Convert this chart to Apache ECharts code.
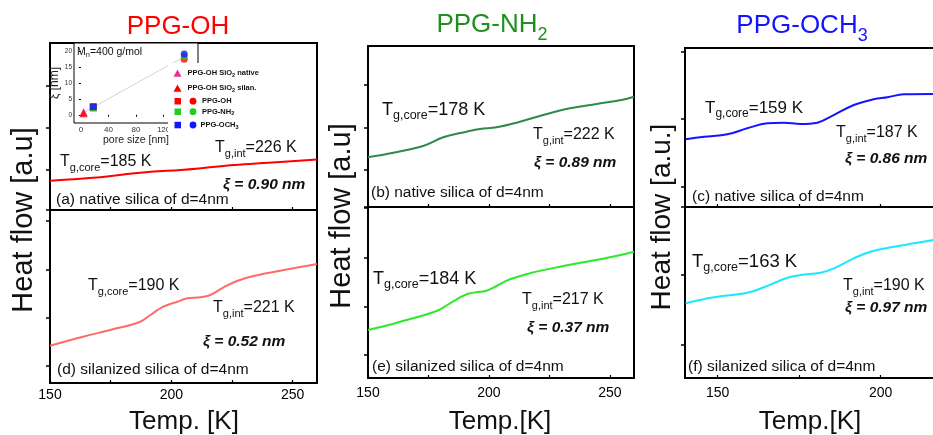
<!DOCTYPE html>
<html>
<head>
<meta charset="utf-8">
<script src="https://cdn.jsdelivr.net/npm/echarts@6/dist/echarts.min.js"></script>
<style>
html,body{margin:0;padding:0;background:#fff;}
#chart{width:933px;height:435px;}
</style>
</head>
<body>
<div id="chart"></div>
<script>
// ---------------- DATA ----------------
// Temperatures [K] and heat flow [a.u.]
const tempP1Top = [150, 170.7, 181.7, 191.5, 203.9, 212.2, 225.9, 239.9, 260];
const flowP1Top = [29.3, 32.7, 36, 38.3, 40, 41.7, 45, 47.3, 50.5];

const tempP1Bot = [150, 163.6, 174.8, 187.2, 191.3, 196.7, 202.5, 206.6, 212, 216, 221.5, 227.3, 233.9, 246.3, 260];
const flowP1Bot = [37.3, 46.3, 53, 61.3, 68, 76.3, 81.3, 84.7, 85.7, 88, 95.7, 102.3, 107, 113, 119];

const tempP2Top = [150, 160.5, 172.8, 181.1, 190.8, 196.3, 203.2, 211.4, 222.4, 233.5, 244.5, 254.8, 260];
const flowP2Top = [49.7, 54.3, 61, 69.7, 75.3, 78, 79.7, 84.3, 92, 98.7, 103, 107, 110.3];

const tempP2Bot = [150, 161.9, 178.4, 183.9, 190.8, 196.3, 199, 203.2, 208.7, 216.9, 229.3, 240.4, 250, 260];
const flowP2Bot = [48, 55.3, 67, 74.7, 83.7, 86.3, 87.3, 92, 98.7, 104.7, 111.3, 116.3, 120.7, 126.3];

const tempP3Top = [140.2, 145.8, 153, 159.1, 165.2, 170.3, 175.5, 180.6, 184.7, 191.8, 197.9, 202.1, 207.1, 216.3];
const flowP3Top = [67.7, 70.3, 72.7, 78.7, 83.7, 84.3, 83, 84.3, 90.3, 102, 107.7, 109.7, 112.7, 113];

const tempP3Bot = [140.2, 148.9, 159.1, 164.2, 171.4, 175.5, 181.6, 185.7, 191.8, 196.9, 204.1, 210.2, 216.3];
const flowP3Bot = [74.7, 80.7, 85.3, 90.7, 100.3, 103, 105.3, 109.7, 119.7, 126.3, 131.3, 134.7, 138];

// Tick marks / labels
const xTicksMain = [150, 175, 200, 225, 250];
const xLabelsMain = [150, 200, 250];
const xTicksP3 = [150, 175, 200];
const xLabelsP3 = [150, 200];
const yTicksP1Top = [0, 40, 82, 124];
const yTicksP1Bot = [17, 65, 113, 162];
const yTicksP2Top = [0, 37, 79, 122];
const yTicksP2Bot = [23, 71, 120, 170];
const yTicksP3Top = [0, 20, 88, 155];
const yTicksP3Bot = [33, 103];

// Inset: correlation length xi [nm] vs pore size [nm]
const poreTicks = [0, 40, 80, 120, 160];
const poreLabels = [0, 40, 80, 120];
const xiTicks = [0, 5, 10, 15, 20];
const poreSmall = 4;
const poreMid = 18;
const poreLarge = 150;
const xiNative = [0.90];
const xiSilan = [0.52];
const xiOH = [2.3, 17.6];
const xiNH2 = [2.1, 18.4];
const xiOCH3 = [2.6, 19.2];
const guidePore = [4, 150];
const guideXi = [0.7, 18.4];

// ---------------- CHART ----------------
const FONT = "'Liberation Sans', Arial, Helvetica, sans-serif";
const zip = (a, b) => a.map((v, i) => [v, b[i]]);

const gridBase = {show: true, borderColor: '#000', borderWidth: 2, backgroundColor: 'transparent', containLabel: false, outerBoundsMode: 'none'};
const grids = [
  Object.assign({left: 50, top: 43, width: 267, height: 167}, gridBase),
  Object.assign({left: 50, top: 210, width: 267, height: 173}, gridBase),
  Object.assign({left: 368, top: 46, width: 266, height: 161}, gridBase),
  Object.assign({left: 368, top: 207, width: 266, height: 171}, gridBase),
  Object.assign({left: 685, top: 48, width: 252, height: 159}, gridBase),
  Object.assign({left: 685, top: 207, width: 252, height: 171}, gridBase),
  {left: 74, top: 43, width: 124, height: 80, show: true, borderColor: '#000', borderWidth: 1, backgroundColor: '#fff', containLabel: false, outerBoundsMode: 'none'}
];

function mainX(gi, min, max, ticks, labels) {
  return {
    gridIndex: gi, type: 'value', min: min, max: max,
    axisLine: {show: false}, splitLine: {show: false},
    axisTick: {show: true, inside: true, length: 3, lineStyle: {color: '#000', width: 1.2}, customValues: ticks},
    axisLabel: labels ? {show: true, customValues: labels, fontSize: 14, color: '#000', margin: gi === 1 ? 5 : 8, fontFamily: FONT} : {show: false}
  };
}
function mainY(gi, h, ticks) {
  return {
    gridIndex: gi, type: 'value', min: 0, max: h,
    axisLine: {show: false}, splitLine: {show: false}, axisLabel: {show: false},
    axisTick: {show: true, inside: false, length: 4, lineStyle: {color: '#000', width: 1.5}, customValues: ticks}
  };
}

const xAxes = [
  mainX(0, 150, 260, xTicksMain, null),
  mainX(1, 150, 260, xTicksMain, xLabelsMain),
  mainX(2, 150, 260, xTicksMain, null),
  mainX(3, 150, 260, xTicksMain, xLabelsMain),
  mainX(4, 140, 217.3, xTicksP3, null),
  mainX(5, 140, 217.3, xTicksP3, xLabelsP3),
  {
    gridIndex: 6, type: 'value', min: -10, max: 170,
    axisLine: {show: false}, splitLine: {show: false},
    axisTick: {show: true, inside: false, length: 2, lineStyle: {color: '#000', width: 1}, customValues: poreTicks},
    axisLabel: {show: true, customValues: poreLabels, fontSize: 8, color: '#333', margin: 3, fontFamily: FONT},
    name: 'pore size [nm]', nameLocation: 'middle', nameGap: 12,
    nameTextStyle: {fontSize: 10.5, color: '#222', fontFamily: FONT}
  }
];
const yAxes = [
  mainY(0, 167, yTicksP1Top),
  mainY(1, 173, yTicksP1Bot),
  mainY(2, 161, yTicksP2Top),
  mainY(3, 171, yTicksP2Bot),
  mainY(4, 159, yTicksP3Top),
  mainY(5, 171, yTicksP3Bot),
  {
    gridIndex: 6, type: 'value', min: -2.6, max: 22.7,
    axisLine: {show: false}, splitLine: {show: false},
    axisTick: {show: true, inside: false, length: 2, lineStyle: {color: '#000', width: 1}, customValues: xiTicks},
    axisLabel: {show: true, customValues: xiTicks, fontSize: 6.5, color: '#333', margin: 2, fontFamily: FONT},
    name: 'ξ [nm]', nameLocation: 'middle', nameGap: 12, nameRotate: 90,
    nameTextStyle: {fontSize: 12, color: '#222', fontFamily: FONT}
  }
];

function curve(idx, t, f, color) {
  return {
    type: 'line', xAxisIndex: idx, yAxisIndex: idx, data: zip(t, f),
    smooth: 0.4, showSymbol: false, symbol: 'none',
    lineStyle: {color: color, width: 2}, z: 3, silent: true
  };
}

const series = [
  curve(0, tempP1Top, flowP1Top, '#ff0000'),
  curve(1, tempP1Bot, flowP1Bot, '#ff6b6b'),
  curve(2, tempP2Top, flowP2Top, '#2e8b47'),
  curve(3, tempP2Bot, flowP2Bot, '#2ee82e'),
  curve(4, tempP3Top, flowP3Top, '#1414ff'),
  curve(5, tempP3Bot, flowP3Bot, '#1ae8ff'),
  {type: 'line', xAxisIndex: 6, yAxisIndex: 6, data: zip(guidePore, guideXi), showSymbol: false, symbol: 'none', lineStyle: {color: '#c8c8c8', width: 0.8}, z: 3},
  {type: 'scatter', xAxisIndex: 6, yAxisIndex: 6, data: xiNative.map(v => [poreSmall, v]), symbol: 'triangle', symbolSize: 8, itemStyle: {color: '#e8309a'}, z: 4},
  {type: 'scatter', xAxisIndex: 6, yAxisIndex: 6, data: xiSilan.map(v => [poreSmall, v]), symbol: 'triangle', symbolSize: 8, itemStyle: {color: '#ff0000'}, z: 4},
  {type: 'scatter', xAxisIndex: 6, yAxisIndex: 6, data: zip([poreMid, poreLarge], xiOH), symbol: (v, p) => p.dataIndex === 0 ? 'rect' : 'circle', symbolSize: 7, itemStyle: {color: '#ff0000'}, z: 4},
  {type: 'scatter', xAxisIndex: 6, yAxisIndex: 6, data: zip([poreMid, poreLarge], xiNH2), symbol: (v, p) => p.dataIndex === 0 ? 'rect' : 'circle', symbolSize: 7, itemStyle: {color: '#22cc22'}, z: 4},
  {type: 'scatter', xAxisIndex: 6, yAxisIndex: 6, data: zip([poreMid, poreLarge], xiOCH3), symbol: (v, p) => p.dataIndex === 0 ? 'rect' : 'circle', symbolSize: 7, itemStyle: {color: '#1414ff'}, z: 4}
];

// ---------------- TEXT / DECORATIONS ----------------
function txt(x, y, text, size, opts) {
  opts = opts || {};
  return {
    type: 'text', x: x, y: y, z: opts.z || 60, rotation: opts.rotation || 0,
    style: {
      text: text, fontSize: size, fontFamily: FONT, fill: opts.color || '#111',
      fontWeight: opts.weight || 'normal', fontStyle: opts.style || 'normal',
      align: opts.align || 'left', verticalAlign: 'middle'
    }
  };
}
function subTxt(x, y, pre, sub, post, size, subSize, pad, opts) {
  opts = opts || {};
  const color = opts.color || '#111';
  const w = opts.weight || 'normal';
  return {
    type: 'text', x: x, y: y, z: opts.z || 60,
    style: {
      text: '{m|' + pre + '}{s|' + sub + '}' + (post ? '{m|' + post + '}' : ''),
      align: opts.align || 'left', verticalAlign: 'middle',
      rich: {
        m: {fontSize: size, fontFamily: FONT, fill: color, fontWeight: w},
        s: {fontSize: subSize, fontFamily: FONT, fill: color, fontWeight: w, padding: [pad, 0, 0, 0]}
      }
    }
  };
}
const xiStyle = {weight: 'bold', style: 'italic'};

const elements = [
  // titles
  txt(178, 27, 'PPG-OH', 26, {color: '#ff0000', align: 'center'}),
  subTxt(492, 25, 'PPG-NH', '2', '', 26, 18, 20, {color: '#1f8f1f', align: 'center'}),
  subTxt(802, 26, 'PPG-OCH', '3', '', 26, 18, 20, {color: '#1414ff', align: 'center'}),
  // y titles
  txt(24, 220, 'Heat flow [a.u]', 29, {align: 'center', rotation: Math.PI / 2}),
  txt(342, 216, 'Heat flow [a.u]', 29, {align: 'center', rotation: Math.PI / 2}),
  txt(662, 217, 'Heat flow [a.u.]', 28, {align: 'center', rotation: Math.PI / 2}),
  // x titles
  txt(184, 422, 'Temp. [K]', 26, {align: 'center'}),
  txt(500, 422, 'Temp.[K]', 26, {align: 'center'}),
  txt(810, 422, 'Temp.[K]', 26, {align: 'center'}),
  // panel captions
  txt(56, 200, '(a) native silica of d=4nm', 15.5),
  txt(57, 370, '(d) silanized silica of d=4nm', 15.5),
  txt(371, 193, '(b) native silica of d=4nm', 15.5),
  txt(372, 367, '(e) silanized silica of d=4nm', 15.5),
  txt(692, 197, '(c) native silica of d=4nm', 15.5),
  txt(688, 367, '(f) silanized silica of d=4nm', 15.5),
  // Tg annotations
  subTxt(60, 162, 'T', 'g,core', '=185 K', 16, 11, 11),
  subTxt(215, 148, 'T', 'g,int', '=226 K', 16, 11, 11),
  subTxt(88, 286, 'T', 'g,core', '=190 K', 16, 11, 11),
  subTxt(213, 308, 'T', 'g,int', '=221 K', 16, 11, 11),
  subTxt(382, 110, 'T', 'g,core', '=178 K', 18, 12.5, 12),
  subTxt(533, 135, 'T', 'g,int', '=222 K', 16, 11, 11),
  subTxt(373, 279, 'T', 'g,core', '=184 K', 18, 12.5, 12),
  subTxt(522, 300, 'T', 'g,int', '=217 K', 16, 11, 11),
  subTxt(705, 108, 'T', 'g,core', '=159 K', 17, 12, 12),
  subTxt(836, 133, 'T', 'g,int', '=187 K', 16, 11, 11),
  subTxt(692, 262, 'T', 'g,core', '=163 K', 18.5, 12.5, 12),
  subTxt(843, 286, 'T', 'g,int', '=190 K', 16, 11, 11),
  // xi values
  txt(223, 185, 'ξ = 0.90 nm', 15.5, xiStyle),
  txt(203, 342, 'ξ = 0.52 nm', 15.5, xiStyle),
  txt(534, 163, 'ξ = 0.89 nm', 15.5, xiStyle),
  txt(527, 328, 'ξ = 0.37 nm', 15.5, xiStyle),
  txt(845, 159, 'ξ = 0.86 nm', 15.5, xiStyle),
  txt(845, 308, 'ξ = 0.97 nm', 15.5, xiStyle),
  // inset annotation
  subTxt(77, 52, 'M', 'n', '=400 g/mol', 10.5, 7.5, 6, {z: 70}),
  // inset legend box
  {type: 'rect', z: 80, shape: {x: 168, y: 63, width: 96, height: 69}, style: {fill: '#fff'}},
  {type: 'polygon', z: 81, shape: {points: [[177.5, 69.5], [173.5, 76.8], [181.5, 76.8]]}, style: {fill: '#e8309a'}},
  {type: 'polygon', z: 81, shape: {points: [[177.5, 84.5], [173.5, 91.8], [181.5, 91.8]]}, style: {fill: '#ff0000'}},
  {type: 'rect', z: 81, shape: {x: 174.5, y: 98, width: 6.5, height: 6.5}, style: {fill: '#ff0000'}},
  {type: 'circle', z: 81, shape: {cx: 193, cy: 101.2, r: 3.4}, style: {fill: '#ff0000'}},
  {type: 'rect', z: 81, shape: {x: 174.5, y: 108.5, width: 6.5, height: 6.5}, style: {fill: '#22cc22'}},
  {type: 'circle', z: 81, shape: {cx: 193, cy: 111.7, r: 3.4}, style: {fill: '#22cc22'}},
  {type: 'rect', z: 81, shape: {x: 174.5, y: 121.8, width: 6.5, height: 6.5}, style: {fill: '#1414ff'}},
  {type: 'circle', z: 81, shape: {cx: 193, cy: 125, r: 3.4}, style: {fill: '#1414ff'}},
  subTxt(187.5, 73.3, 'PPG-OH SiO', '2', ' native', 7.5, 5.5, 4, {weight: 'bold', z: 82}),
  subTxt(187.5, 88.3, 'PPG-OH SiO', '2', ' silan.', 7.5, 5.5, 4, {weight: 'bold', z: 82}),
  txt(202, 101, 'PPG-OH', 7.5, {weight: 'bold', z: 82}),
  subTxt(202, 111.7, 'PPG-NH', '2', '', 7.5, 5.5, 4, {weight: 'bold', z: 82}),
  subTxt(200.5, 125, 'PPG-OCH', '3', '', 7.5, 5.5, 4, {weight: 'bold', z: 82})
];

const chart = echarts.init(document.getElementById('chart'), null, {renderer: 'canvas'});
chart.setOption({
  animation: false,
  backgroundColor: '#fff',
  textStyle: {fontFamily: FONT},
  grid: grids,
  xAxis: xAxes,
  yAxis: yAxes,
  series: series,
  graphic: {elements: elements}
});
</script>
</body>
</html>
